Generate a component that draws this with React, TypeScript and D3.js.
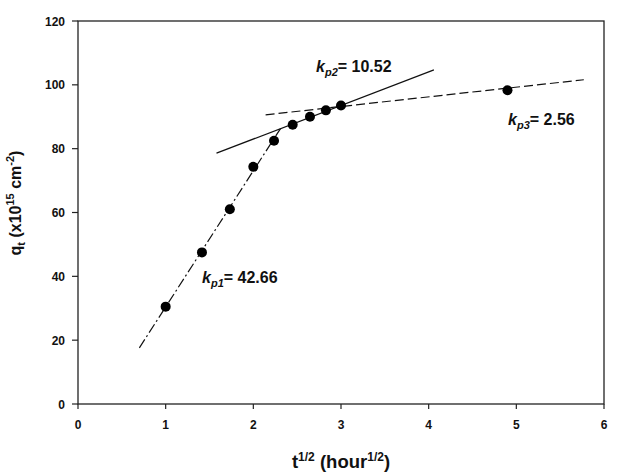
import React from "react";
import * as d3 from "d3";

const xs = [1, 1.414, 1.732, 2, 2.236, 2.449, 2.646, 2.828, 3, 4.899];
const qt = [30.5, 47.5, 61, 74.3, 82.5, 87.5, 90, 92, 93.5, 98.3];
const xTicks = [0, 1, 2, 3, 4, 5, 6];
const yTicks = [0, 20, 40, 60, 80, 100, 120];
const fit1 = [[0.7, 17.6], [2.31, 86.3]];
const fit2 = [[1.58, 78.6], [4.06, 104.7]];
const fit3 = [[2.14, 90.6], [5.77, 101.6]];

export default function App() {
  const W = 617, H = 472;
  const m = { l: 78, r: 13, t: 21, b: 68 };
  const x = d3.scaleLinear().domain([0, 6]).range([m.l, W - m.r]);
  const y = d3.scaleLinear().domain([0, 120]).range([H - m.b, m.t]);
  const line = d3.line<number[]>().x(d => x(d[0])).y(d => y(d[1]));
  const font = "'Liberation Sans', Arial, sans-serif";
  return (
    <svg width={W} height={H} style={{ position: "absolute", left: 0, top: 0, background: "#fff" }} fontFamily={font}>
      <rect x={x(0)} y={y(120)} width={x(6) - x(0)} height={y(0) - y(120)} fill="none" stroke="#222" strokeWidth={1.3} />
      {xTicks.map(t => (
        <g key={"x" + t}>
          <line x1={x(t)} x2={x(t)} y1={y(0)} y2={y(0) + 5} stroke="#222" strokeWidth={1.2} />
          <text x={x(t)} y={429} textAnchor="middle" fontSize={12} fontWeight="bold" fill="#111">{t}</text>
        </g>
      ))}
      {yTicks.map(t => (
        <g key={"y" + t}>
          <line x1={x(0) - 6} x2={x(0)} y1={y(t)} y2={y(t)} stroke="#222" strokeWidth={1.2} />
          <text x={65} y={y(t) + 4.5} textAnchor="end" fontSize={12} fontWeight="bold" fill="#111">{t}</text>
        </g>
      ))}
      <path d={line(fit1) || ""} stroke="#111" strokeWidth={1.2} fill="none" strokeDasharray="10 3 2 3" />
      <path d={line(fit2) || ""} stroke="#111" strokeWidth={1.2} fill="none" />
      <path d={line(fit3) || ""} stroke="#111" strokeWidth={1.2} fill="none" strokeDasharray="9 4" />
      {xs.map((v, i) => (
        <circle key={i} cx={x(v)} cy={y(qt[i])} r={5} fill="#000" />
      ))}
      <text x={316} y={72} fontSize={16} fontWeight="bold" fill="#111">
        <tspan fontStyle="italic">k</tspan><tspan fontStyle="italic" fontSize={11} dy={4}>p2</tspan><tspan dy={-4}>= 10.52</tspan>
      </text>
      <text x={508} y={125} fontSize={16} fontWeight="bold" fill="#111">
        <tspan fontStyle="italic">k</tspan><tspan fontStyle="italic" fontSize={11} dy={4}>p3</tspan><tspan dy={-4}>= 2.56</tspan>
      </text>
      <text x={202} y={283} fontSize={16} fontWeight="bold" fill="#111">
        <tspan fontStyle="italic">k</tspan><tspan fontStyle="italic" fontSize={11} dy={4}>p1</tspan><tspan dy={-4}>= 42.66</tspan>
      </text>
      <text x={x(3)} y={468} textAnchor="middle" fontSize={18.5} fontWeight="bold" fill="#111">
        t<tspan fontSize={12} dy={-7}>1/2</tspan><tspan dy={7}> (hour</tspan><tspan fontSize={12} dy={-7}>1/2</tspan><tspan dy={7}>)</tspan>
      </text>
      <text transform={`translate(21, 203) rotate(-90)`} textAnchor="middle" fontSize={16} fontWeight="bold" fill="#111">
        q<tspan fontSize={11} dy={4}>t</tspan><tspan dy={-4}> (x10</tspan><tspan fontSize={11} dy={-7}>15</tspan><tspan dy={7}> cm</tspan><tspan fontSize={11} dy={-7}>-2</tspan><tspan dy={7}>)</tspan>
      </text>
    </svg>
  );
}
